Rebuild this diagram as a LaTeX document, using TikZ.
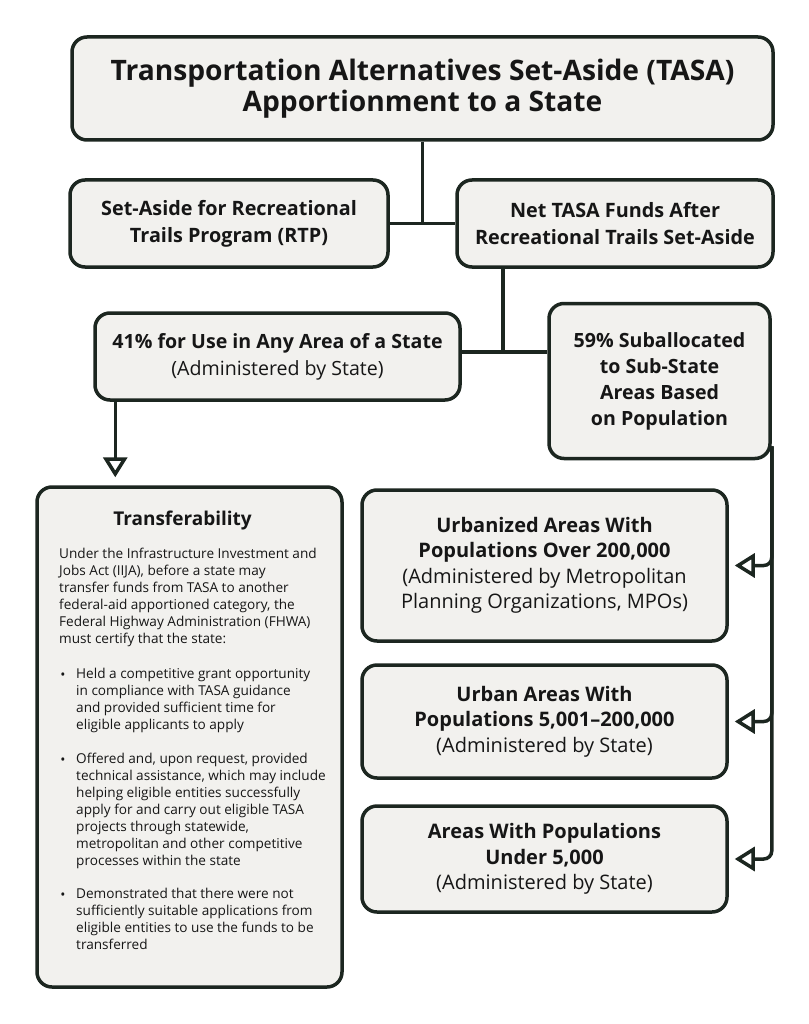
\documentclass[tikz,border=0pt]{standalone}
\usepackage{fontspec}
\setmainfont{Open Sans}
\usetikzlibrary{arrows.meta}
\definecolor{ink}{HTML}{1C2620}
\definecolor{boxbg}{HTML}{F2F1EE}
\definecolor{txt}{HTML}{161616}
\tikzset{
  box/.style={draw=ink, fill=boxbg, line width=3.5pt, rounded corners=15pt, align=center, text=txt, inner sep=0pt},
  conn/.style={draw=ink, line width=3.5pt},
  tip/.style={-{Triangle[open, length=20pt, width=24pt]}},
  body/.style={text=txt, inner sep=0pt, align=left, font=\fontsize{13.6}{17}\selectfont},
}
\begin{document}
\begin{tikzpicture}[x=1pt,y=-1pt]
\useasboundingbox[fill=white] (0,0) rectangle (808,1024);
% top
\node[box, minimum width=701pt, minimum height=103pt, font=\fontsize{28.2}{31.5}\selectfont\bfseries] (top) at (422.5,88.5)
  {Transportation Alternatives Set-Aside (TASA)\\Apportionment to a State};
\node[box, minimum width=318pt, minimum height=87pt, font=\fontsize{19.8}{27}\selectfont\bfseries] (rtp) at (229,223.5)
  {Set-Aside for Recreational\\Trails Program (RTP)};
\node[box, minimum width=316pt, minimum height=87pt, font=\fontsize{19.8}{27}\selectfont\bfseries] (net) at (615,223.5)
  {Net TASA Funds After\\Recreational Trails Set-Aside};
\node[box, minimum width=365pt, minimum height=87pt, font=\fontsize{19.6}{27}\selectfont] (a41) at (277.5,356.5)
  {\textbf{41\% for Use in Any Area of a State}\\(Administered by State)};
\node[box, minimum width=221pt, minimum height=155pt, font=\fontsize{19.6}{26}\selectfont\bfseries] (a59) at (659.5,381)
  {59\% Suballocated\\to Sub-State\\Areas Based\\on Population};
% right boxes
\node[box, minimum width=365pt, minimum height=151pt, font=\fontsize{20}{25.5}\selectfont] (urb) at (544.5,565.5)
  {\textbf{Urbanized Areas With}\\\textbf{Populations Over 200,000}\\(Administered by Metropolitan\\Planning Organizations, MPOs)};
\node[box, minimum width=365pt, minimum height=113pt, font=\fontsize{20}{25.5}\selectfont] (urbn) at (544.5,721.5)
  {\textbf{Urban Areas With}\\\textbf{Populations 5,001–200,000}\\(Administered by State)};
\node[box, minimum width=365pt, minimum height=106pt, font=\fontsize{20}{25.5}\selectfont] (rural) at (544.5,859)
  {\textbf{Areas With Populations}\\\textbf{Under 5,000}\\(Administered by State)};
% transferability
\node[box, minimum width=305pt, minimum height=500pt] (trans) at (189.5,737) {};
\node[text=txt, inner sep=0pt, font=\fontsize{19}{22}\selectfont\bfseries] (ttl) at (182.5,521) {Transferability};
\node[body, anchor=north west] (para) at (59,548)
  {Under the Infrastructure Investment and\\Jobs Act (IIJA), before a state may\\transfer funds from TASA to another\\federal-aid apportioned category, the\\Federal Highway Administration (FHWA)\\must certify that the state:};
\node[body, anchor=north west] (b1) at (76,668)
  {Held a competitive grant opportunity\\in compliance with TASA guidance\\and provided sufficient time for\\eligible applicants to apply};
\node[body, anchor=north west] (b2) at (76,753)
  {Offered and, upon request, provided\\technical assistance, which may include\\helping eligible entities successfully\\apply for and carry out eligible TASA\\projects through statewide,\\metropolitan and other competitive\\processes within the state};
\node[body, anchor=north west] (b3) at (76,888)
  {Demonstrated that there were not\\sufficiently suitable applications from\\eligible entities to use the funds to be\\transferred};
\node[body] (d1) at (63,676) {•};
\node[body] (d2) at (63,761) {•};
\node[body] (d3) at (63,896) {•};
% connectors
\draw[conn] (top.south) -- (top.south |- rtp.east);
\draw[conn] (rtp.east) -- (net.west);
\coordinate (j2) at (503,352);
\draw[conn] (net.south -| j2) -- (j2);
\draw[conn] (a41.east |- j2) -- (a59.west |- j2);
\draw[conn, tip, shorten >=8pt] ([xshift=22pt]a41.south west) -- ([xshift=22pt]a41.south west |- trans.north);
\draw[conn, tip, rounded corners=8pt, shorten >=6pt] ([yshift=14pt]a59.south east) |- (urb.east);
\draw[conn, tip, rounded corners=8pt, shorten >=6pt] ([yshift=14pt]a59.south east) |- (urbn.east);
\draw[conn, tip, rounded corners=8pt, shorten >=6pt] ([yshift=14pt]a59.south east) |- (rural.east);
\end{tikzpicture}
\end{document}
